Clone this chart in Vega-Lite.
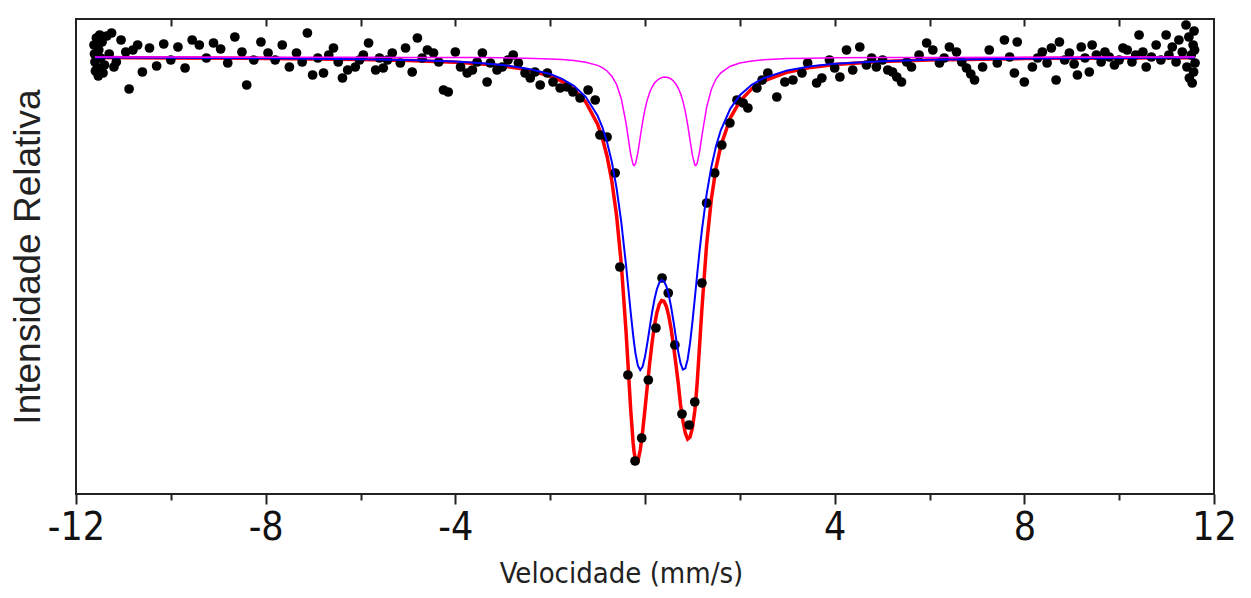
{
  "$schema": "https://vega.github.io/schema/vega-lite/v6.json",
  "width": 1138,
  "height": 475,
  "autosize": {"type": "none"},
  "padding": {"left": 76, "top": 19, "right": 37, "bottom": 104},
  "background": "white",
  "config": {"view": {"stroke": "#222", "strokeWidth": 2}, "axis": {"grid": false}},
  "datasets": {
    "pts": [
      {"v": -11.62, "i": 1.006}, {"v": -11.61, "i": 1.0015}, {"v": -11.6, "i": 0.9975}, {"v": -11.59, "i": 0.993}, {"v": -11.57, "i": 1.0095}, {"v": -11.55, "i": 0.9945},
      {"v": -11.53, "i": 0.9905}, {"v": -11.52, "i": 1.0035}, {"v": -11.5, "i": 1.011}, {"v": -11.48, "i": 0.9995}, {"v": -11.45, "i": 1.0075}, {"v": -11.43, "i": 0.992}, {"v": -11.4, "i": 0.996},
      {"v": -11.35, "i": 1.0105}, {"v": -11.3, "i": 1.0015}, {"v": -11.25, "i": 1.012}, {"v": -11.2, "i": 0.995}, {"v": -11.15, "i": 0.9975},
      {"v": -11.05, "i": 1.0085}, {"v": -10.95, "i": 1.0025}, {"v": -10.88, "i": 0.984}, {"v": -10.8, "i": 1.0035},
      {"v": -10.7, "i": 1.006}, {"v": -10.6, "i": 0.9925}, {"v": -10.45, "i": 1.0045}, {"v": -10.3, "i": 0.9955},
      {"v": -10.15, "i": 1.0065}, {"v": -10.0, "i": 0.9985}, {"v": -9.85, "i": 1.005}, {"v": -9.7, "i": 0.9945},
      {"v": -9.55, "i": 1.0085}, {"v": -9.4, "i": 1.006}, {"v": -9.25, "i": 0.9995}, {"v": -9.1, "i": 1.007},
      {"v": -8.95, "i": 1.004}, {"v": -8.8, "i": 0.997}, {"v": -8.65, "i": 1.01}, {"v": -8.5, "i": 1.0025},
      {"v": -8.4, "i": 0.986}, {"v": -8.25, "i": 0.9985}, {"v": -8.1, "i": 1.0075}, {"v": -7.95, "i": 1.002},
      {"v": -7.8, "i": 0.9985}, {"v": -7.65, "i": 1.006}, {"v": -7.5, "i": 0.995}, {"v": -7.35, "i": 1.002},
      {"v": -7.23, "i": 0.9975}, {"v": -7.12, "i": 1.012}, {"v": -7.01, "i": 0.991}, {"v": -6.9, "i": 0.9995},
      {"v": -6.78, "i": 0.992}, {"v": -6.67, "i": 1.001}, {"v": -6.57, "i": 1.0045}, {"v": -6.47, "i": 0.9975},
      {"v": -6.38, "i": 0.9895}, {"v": -6.27, "i": 0.9935}, {"v": -6.11, "i": 0.995}, {"v": -6.02, "i": 0.9985},
      {"v": -5.94, "i": 1.001}, {"v": -5.83, "i": 1.007}, {"v": -5.68, "i": 0.9935}, {"v": -5.6, "i": 0.9995},
      {"v": -5.52, "i": 0.9945}, {"v": -5.43, "i": 0.9985}, {"v": -5.33, "i": 1.002}, {"v": -5.16, "i": 0.997},
      {"v": -5.05, "i": 1.0045}, {"v": -4.91, "i": 0.9925}, {"v": -4.8, "i": 1.0095}, {"v": -4.7, "i": 0.9995},
      {"v": -4.59, "i": 1.0035}, {"v": -4.46, "i": 1.002}, {"v": -4.35, "i": 0.9975}, {"v": -4.25, "i": 0.9835},
      {"v": -4.15, "i": 0.9825}, {"v": -4.0, "i": 1.0025}, {"v": -3.89, "i": 0.995}, {"v": -3.75, "i": 0.992},
      {"v": -3.64, "i": 0.9935}, {"v": -3.54, "i": 0.9975}, {"v": -3.43, "i": 1.002}, {"v": -3.33, "i": 0.9875},
      {"v": -3.26, "i": 0.997}, {"v": -3.12, "i": 0.9935}, {"v": -3.01, "i": 0.995}, {"v": -2.89, "i": 0.9985},
      {"v": -2.78, "i": 1.001}, {"v": -2.67, "i": 0.997}, {"v": -2.53, "i": 0.992}, {"v": -2.42, "i": 0.9895},
      {"v": -2.32, "i": 0.9925}, {"v": -2.21, "i": 0.986}, {"v": -2.06, "i": 0.992}, {"v": -1.94, "i": 0.9875},
      {"v": -1.79, "i": 0.9845}, {"v": -1.64, "i": 0.985}, {"v": -1.52, "i": 0.9825}, {"v": -1.37, "i": 0.9795},
      {"v": -1.2, "i": 0.9835}, {"v": -1.05, "i": 0.9785}, {"v": -0.95, "i": 0.961}, {"v": -0.8, "i": 0.96},
      {"v": -0.63, "i": 0.942}, {"v": -0.53, "i": 0.895}, {"v": -0.36, "i": 0.841}, {"v": -0.21, "i": 0.798},
      {"v": -0.07, "i": 0.8095}, {"v": 0.07, "i": 0.8385}, {"v": 0.23, "i": 0.8645}, {"v": 0.36, "i": 0.8895},
      {"v": 0.49, "i": 0.882}, {"v": 0.63, "i": 0.856}, {"v": 0.78, "i": 0.8215}, {"v": 0.93, "i": 0.816},
      {"v": 1.05, "i": 0.8275}, {"v": 1.2, "i": 0.887}, {"v": 1.3, "i": 0.927}, {"v": 1.47, "i": 0.942},
      {"v": 1.62, "i": 0.956}, {"v": 1.79, "i": 0.967}, {"v": 1.94, "i": 0.9785}, {"v": 2.07, "i": 0.977},
      {"v": 2.17, "i": 0.9745}, {"v": 2.36, "i": 0.9845}, {"v": 2.47, "i": 0.9885}, {"v": 2.59, "i": 0.992},
      {"v": 2.78, "i": 0.98}, {"v": 2.95, "i": 0.9875}, {"v": 3.12, "i": 0.9885}, {"v": 3.31, "i": 0.992},
      {"v": 3.43, "i": 0.997}, {"v": 3.62, "i": 0.987}, {"v": 3.73, "i": 0.9895}, {"v": 3.89, "i": 0.9985},
      {"v": 4.0, "i": 0.9945}, {"v": 4.11, "i": 0.99}, {"v": 4.25, "i": 1.0035}, {"v": 4.38, "i": 0.9935},
      {"v": 4.53, "i": 1.005}, {"v": 4.67, "i": 0.996}, {"v": 4.78, "i": 0.9995}, {"v": 4.88, "i": 0.995},
      {"v": 5.01, "i": 0.9985}, {"v": 5.12, "i": 0.9935}, {"v": 5.22, "i": 0.9925}, {"v": 5.31, "i": 0.99},
      {"v": 5.41, "i": 0.9875}, {"v": 5.52, "i": 0.9975}, {"v": 5.62, "i": 0.995}, {"v": 5.78, "i": 1.001},
      {"v": 5.94, "i": 1.007}, {"v": 6.07, "i": 1.0035}, {"v": 6.21, "i": 0.997}, {"v": 6.31, "i": 0.9995},
      {"v": 6.42, "i": 1.005}, {"v": 6.57, "i": 1.0025}, {"v": 6.68, "i": 0.9975}, {"v": 6.78, "i": 0.9945},
      {"v": 6.87, "i": 0.9915}, {"v": 6.95, "i": 0.9885}, {"v": 7.12, "i": 0.995}, {"v": 7.26, "i": 1.0035},
      {"v": 7.43, "i": 0.997}, {"v": 7.58, "i": 1.0085}, {"v": 7.69, "i": 1.0}, {"v": 7.79, "i": 0.992},
      {"v": 7.85, "i": 1.0075}, {"v": 8.0, "i": 0.9875}, {"v": 8.17, "i": 0.995}, {"v": 8.28, "i": 0.9995},
      {"v": 8.38, "i": 1.0025}, {"v": 8.48, "i": 0.997}, {"v": 8.57, "i": 1.0045}, {"v": 8.67, "i": 0.9885},
      {"v": 8.74, "i": 1.0075}, {"v": 8.85, "i": 0.9985}, {"v": 8.95, "i": 1.002}, {"v": 9.05, "i": 0.9965},
      {"v": 9.12, "i": 0.991}, {"v": 9.2, "i": 1.005}, {"v": 9.28, "i": 0.9995}, {"v": 9.37, "i": 0.9925},
      {"v": 9.43, "i": 1.006}, {"v": 9.52, "i": 1.001}, {"v": 9.62, "i": 0.9975}, {"v": 9.7, "i": 1.0025},
      {"v": 9.79, "i": 1.0}, {"v": 9.9, "i": 0.996}, {"v": 10.0, "i": 0.9985}, {"v": 10.08, "i": 1.0045},
      {"v": 10.17, "i": 1.0035}, {"v": 10.27, "i": 0.9975}, {"v": 10.35, "i": 1.001}, {"v": 10.42, "i": 1.011},
      {"v": 10.5, "i": 1.0025}, {"v": 10.57, "i": 0.995}, {"v": 10.68, "i": 1.0}, {"v": 10.78, "i": 1.006},
      {"v": 10.88, "i": 0.9985}, {"v": 10.99, "i": 1.011}, {"v": 11.05, "i": 1.001}, {"v": 11.12, "i": 1.005},
      {"v": 11.2, "i": 0.9975}, {"v": 11.26, "i": 1.0085}, {"v": 11.33, "i": 1.0025}, {"v": 11.41, "i": 1.016},
      {"v": 11.43, "i": 0.995}, {"v": 11.47, "i": 1.01}, {"v": 11.48, "i": 0.9895}, {"v": 11.52, "i": 1.001},
      {"v": 11.54, "i": 0.987}, {"v": 11.56, "i": 1.006}, {"v": 11.58, "i": 1.013}, {"v": 11.6, "i": 0.997},
      {"v": 11.57, "i": 0.9925}, {"v": 11.59, "i": 1.0035}
    ],
    "fit": [
      {"v": -11.6, "total": 0.9997, "d1": 0.9997, "d2": 1.0},
      {"v": -10, "total": 0.9995, "d1": 0.9996, "d2": 1.0},
      {"v": -8, "total": 0.9993, "d1": 0.9994, "d2": 0.9999},
      {"v": -6, "total": 0.9988, "d1": 0.9989, "d2": 0.9999},
      {"v": -5, "total": 0.9983, "d1": 0.9985, "d2": 0.9998},
      {"v": -4, "total": 0.9974, "d1": 0.9977, "d2": 0.9997},
      {"v": -3.5, "total": 0.9966, "d1": 0.997, "d2": 0.9997},
      {"v": -3, "total": 0.9955, "d1": 0.996, "d2": 0.9996},
      {"v": -2.5, "total": 0.9937, "d1": 0.9943, "d2": 0.9994},
      {"v": -2, "total": 0.9905, "d1": 0.9915, "d2": 0.999},
      {"v": -1.75, "total": 0.9878, "d1": 0.9891, "d2": 0.9987},
      {"v": -1.5, "total": 0.9838, "d1": 0.9856, "d2": 0.9982},
      {"v": -1.25, "total": 0.9775, "d1": 0.9801, "d2": 0.9974},
      {"v": -1.0, "total": 0.9664, "d1": 0.9706, "d2": 0.9958},
      {"v": -0.9, "total": 0.9595, "d1": 0.9649, "d2": 0.9947},
      {"v": -0.8, "total": 0.9504, "d1": 0.9574, "d2": 0.993},
      {"v": -0.7, "total": 0.938, "d1": 0.9476, "d2": 0.9904},
      {"v": -0.6, "total": 0.9208, "d1": 0.9345, "d2": 0.9863},
      {"v": -0.5, "total": 0.8965, "d1": 0.9174, "d2": 0.9791},
      {"v": -0.4, "total": 0.8628, "d1": 0.8959, "d2": 0.9669},
      {"v": -0.3, "total": 0.8231, "d1": 0.872, "d2": 0.9511},
      {"v": -0.25, "total": 0.807, "d1": 0.8609, "d2": 0.9462},
      {"v": -0.23, "total": 0.8025, "d1": 0.8569, "d2": 0.9457},
      {"v": -0.2, "total": 0.7984, "d1": 0.8517, "d2": 0.9467},
      {"v": -0.15, "total": 0.7979, "d1": 0.8457, "d2": 0.9522},
      {"v": -0.1, "total": 0.8035, "d1": 0.8435, "d2": 0.96},
      {"v": -0.05, "total": 0.8128, "d1": 0.8452, "d2": 0.9676},
      {"v": 0, "total": 0.824, "d1": 0.8501, "d2": 0.9739},
      {"v": 0.05, "total": 0.8358, "d1": 0.8571, "d2": 0.9788},
      {"v": 0.1, "total": 0.8472, "d1": 0.8648, "d2": 0.9824},
      {"v": 0.15, "total": 0.8573, "d1": 0.8724, "d2": 0.985},
      {"v": 0.2, "total": 0.8658, "d1": 0.8789, "d2": 0.987},
      {"v": 0.25, "total": 0.8721, "d1": 0.8839, "d2": 0.9882},
      {"v": 0.3, "total": 0.8763, "d1": 0.8871, "d2": 0.9891},
      {"v": 0.35, "total": 0.8782, "d1": 0.8885, "d2": 0.9897},
      {"v": 0.4, "total": 0.8779, "d1": 0.8879, "d2": 0.99},
      {"v": 0.45, "total": 0.8753, "d1": 0.8854, "d2": 0.9899},
      {"v": 0.5, "total": 0.8707, "d1": 0.8811, "d2": 0.9896},
      {"v": 0.55, "total": 0.8641, "d1": 0.8751, "d2": 0.989},
      {"v": 0.6, "total": 0.8559, "d1": 0.8679, "d2": 0.988},
      {"v": 0.65, "total": 0.8467, "d1": 0.8601, "d2": 0.9865},
      {"v": 0.7, "total": 0.8372, "d1": 0.8527, "d2": 0.9845},
      {"v": 0.75, "total": 0.826, "d1": 0.8468, "d2": 0.9817},
      {"v": 0.8, "total": 0.818, "d1": 0.8437, "d2": 0.9779},
      {"v": 0.85, "total": 0.812, "d1": 0.8443, "d2": 0.9728},
      {"v": 0.9, "total": 0.809, "d1": 0.8489, "d2": 0.9662},
      {"v": 0.95, "total": 0.81, "d1": 0.8569, "d2": 0.9584},
      {"v": 1.0, "total": 0.8145, "d1": 0.8674, "d2": 0.9508},
      {"v": 1.05, "total": 0.823, "d1": 0.8792, "d2": 0.9461},
      {"v": 1.07, "total": 0.828, "d1": 0.884, "d2": 0.9457},
      {"v": 1.1, "total": 0.837, "d1": 0.8912, "d2": 0.9468},
      {"v": 1.15, "total": 0.8553, "d1": 0.9028, "d2": 0.9525},
      {"v": 1.2, "total": 0.874, "d1": 0.9134, "d2": 0.9606},
      {"v": 1.3, "total": 0.9064, "d1": 0.9314, "d2": 0.9749},
      {"v": 1.4, "total": 0.9291, "d1": 0.9452, "d2": 0.9839},
      {"v": 1.5, "total": 0.9448, "d1": 0.9556, "d2": 0.9891},
      {"v": 1.6, "total": 0.9556, "d1": 0.9635, "d2": 0.9921},
      {"v": 1.8, "total": 0.9696, "d1": 0.9742, "d2": 0.9954},
      {"v": 2.0, "total": 0.9778, "d1": 0.9809, "d2": 0.997},
      {"v": 2.25, "total": 0.9841, "d1": 0.9861, "d2": 0.998},
      {"v": 2.5, "total": 0.988, "d1": 0.9894, "d2": 0.9986},
      {"v": 3, "total": 0.9924, "d1": 0.9933, "d2": 0.9992},
      {"v": 3.5, "total": 0.9948, "d1": 0.9954, "d2": 0.9994},
      {"v": 4, "total": 0.9962, "d1": 0.9966, "d2": 0.9996},
      {"v": 5, "total": 0.9977, "d1": 0.9979, "d2": 0.9998},
      {"v": 6, "total": 0.9985, "d1": 0.9986, "d2": 0.9998},
      {"v": 8, "total": 0.9992, "d1": 0.9992, "d2": 0.9999},
      {"v": 10, "total": 0.9995, "d1": 0.9995, "d2": 1.0},
      {"v": 11.6, "total": 0.9996, "d1": 0.9997, "d2": 1.0}
    ]
  },
  "layer": [
    {
      "data": {"name": "fit"},
      "mark": {"type": "line", "color": "#ff0000", "strokeWidth": 3.5, "interpolate": "linear"},
      "encoding": {
        "x": {
          "field": "v", "type": "quantitative",
          "scale": {"domain": [-12, 12], "nice": false, "zero": false},
          "axis": {
            "orient": "bottom", "values": [-12, -8, -4, 0, 4, 8, 12],
            "tickSize": 10, "tickWidth": 2, "tickColor": "#222", "domain": false,
            "labelExpr": "datum.value == 0 ? '' : toString(datum.value)",
            "labelFont": "DejaVu Sans Condensed, Liberation Sans, sans-serif", "labelFontSize": 39, "labelColor": "#111",
            "labelPadding": 4, "labelFlush": false,
            "title": "Velocidade (mm/s)", "titleFont": "DejaVu Sans Condensed, Liberation Sans, sans-serif", "titleFontSize": 29,
            "titleFontWeight": "normal", "titleColor": "#222", "titlePadding": 12, "titleX": 545
          }
        },
        "y": {
          "field": "total", "type": "quantitative",
          "scale": {"domain": [0.7815, 1.019], "nice": false, "zero": false},
          "axis": {
            "title": "Intensidade Relativa", "labels": false, "ticks": false, "domain": false,
            "titleFont": "Liberation Sans", "titleFontSize": 37, "titleFontWeight": "normal",
            "titleColor": "#222", "titlePadding": 29
          }
        }
      }
    },
    {
      "data": {"name": "pts"},
      "mark": {"type": "point", "filled": true, "shape": "circle", "size": 95, "color": "#000", "opacity": 1},
      "encoding": {
        "x": {
          "field": "v", "type": "quantitative",
          "scale": {"domain": [-12, 12], "nice": false, "zero": false},
          "axis": {
            "orient": "bottom", "values": [-10, -6, -2, 2, 6, 10],
            "tickSize": 6, "tickWidth": 2, "tickColor": "#222", "domain": false,
            "labels": false, "title": null
          }
        },
        "y": {
          "field": "i", "type": "quantitative",
          "scale": {"domain": [0.7815, 1.019], "nice": false, "zero": false},
          "axis": {
            "title": "Intensidade Relativa", "labels": false, "ticks": false, "domain": false,
            "titleFont": "Liberation Sans", "titleFontSize": 37, "titleFontWeight": "normal",
            "titleColor": "#222", "titlePadding": 29
          }
        }
      }
    },
    {
      "data": {"name": "fit"},
      "mark": {"type": "line", "color": "#0000ff", "strokeWidth": 2, "interpolate": "linear"},
      "encoding": {
        "x": {
          "field": "v", "type": "quantitative",
          "scale": {"domain": [-12, 12], "nice": false, "zero": false},
          "axis": {
            "orient": "top", "values": [-10, -8, -6, -4, -2, 0, 2, 4, 6, 8, 10],
            "tickSize": -7, "tickWidth": 2, "tickColor": "#222", "domain": false,
            "labels": false, "title": null
          }
        },
        "y": {
          "field": "d1", "type": "quantitative",
          "scale": {"domain": [0.7815, 1.019], "nice": false, "zero": false},
          "axis": {
            "title": "Intensidade Relativa", "labels": false, "ticks": false, "domain": false,
            "titleFont": "Liberation Sans", "titleFontSize": 37, "titleFontWeight": "normal",
            "titleColor": "#222", "titlePadding": 29
          }
        }
      }
    },
    {
      "data": {"name": "fit"},
      "mark": {"type": "line", "color": "#ff00ff", "strokeWidth": 1.5, "interpolate": "linear"},
      "encoding": {
        "x": {
          "field": "v", "type": "quantitative",
          "scale": {"domain": [-12, 12], "nice": false, "zero": false},
          "axis": null
        },
        "y": {
          "field": "d2", "type": "quantitative",
          "scale": {"domain": [0.7815, 1.019], "nice": false, "zero": false},
          "axis": {
            "title": "Intensidade Relativa", "labels": false, "ticks": false, "domain": false,
            "titleFont": "Liberation Sans", "titleFontSize": 37, "titleFontWeight": "normal",
            "titleColor": "#222", "titlePadding": 29
          }
        }
      }
    }
  ],
  "resolve": {"axis": {"x": "independent"}}
}
